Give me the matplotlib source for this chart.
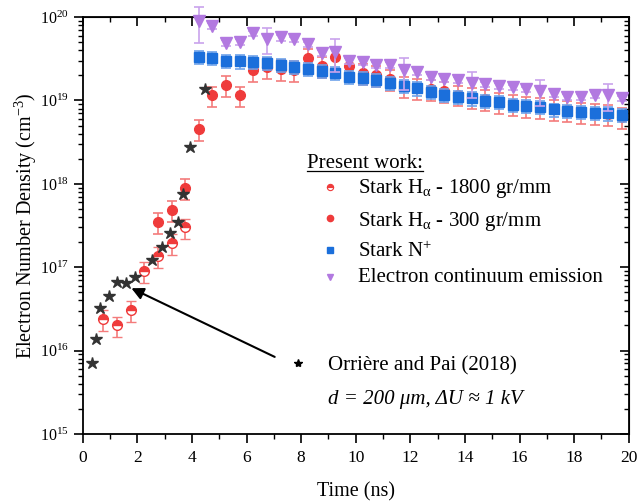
import numpy as np
import matplotlib
matplotlib.use("Agg")
import matplotlib.pyplot as plt
from matplotlib.lines import Line2D

plt.rcParams['font.family'] = ['Liberation Serif', 'DejaVu Serif']
plt.rcParams['mathtext.fontset'] = 'custom'
plt.rcParams['mathtext.rm'] = 'Liberation Serif'
plt.rcParams['mathtext.it'] = 'Liberation Serif:italic'

# Orriere and Pai (2018)
t_ref = [0.32, 0.48, 0.62, 0.96, 1.27, 1.60, 1.93, 2.53, 2.89, 3.19, 3.49, 3.67, 3.92, 4.49]
n_ref = [7.0e15, 1.38e16, 3.27e16, 4.5e16, 6.6e16, 6.4e16, 7.6e16, 1.22e17, 1.76e17,
         2.55e17, 3.5e17, 7.5e17, 2.74e18, 1.37e19]

# Stark H-alpha 1800 gr/mm
t_1800 = [0.75, 1.25, 1.75, 2.25, 2.75, 3.25, 3.75]
n_1800 = [2.4e16, 2.0e16, 3.1e16, 9.1e16, 1.36e17, 1.97e17, 3.0e17]

# Stark H-alpha 300 gr/mm
t_300 = [2.75, 3.25, 3.75, 4.25, 4.75, 5.25, 5.75, 6.25, 6.75, 7.25, 7.75, 8.25, 8.75,
         9.25, 9.75, 10.25, 10.75, 11.25, 11.75, 12.25, 12.75, 13.25, 13.75, 14.25,
         14.75, 15.25, 15.75, 16.25, 16.75, 17.25, 17.75, 18.25, 18.75, 19.25, 19.75]
n_300 = [3.5e17, 4.9e17, 8.9e17, 4.6e18, 1.15e19, 1.55e19, 1.15e19, 2.3e19, 2.5e19,
         2.4e19, 2.3e19, 3.2e19, 2.6e19, 3.3e19, 2.6e19, 2.15e19, 2.0e19, 1.8e19,
         1.5e19, 1.42e19, 1.38e19, 1.3e19, 1.18e19, 1.1e19, 1.05e19, 9.6e18, 9.1e18,
         8.6e18, 8.3e18, 7.9e18, 7.7e18, 7.3e18, 7.1e18, 6.9e18, 6.4e18]

# Stark N+ and continuum emission
t_late = [4.25, 4.75, 5.25, 5.75, 6.25, 6.75, 7.25, 7.75, 8.25, 8.75, 9.25, 9.75,
          10.25, 10.75, 11.25, 11.75, 12.25, 12.75, 13.25, 13.75, 14.25, 14.75,
          15.25, 15.75, 16.25, 16.75, 17.25, 17.75, 18.25, 18.75, 19.25, 19.75]
n_nplus = [3.3e19, 3.25e19, 3.0e19, 2.95e19, 2.9e19, 2.8e19, 2.7e19, 2.55e19, 2.4e19,
           2.25e19, 2.15e19, 1.92e19, 1.87e19, 1.76e19, 1.63e19, 1.49e19, 1.4e19,
           1.27e19, 1.18e19, 1.1e19, 1.06e19, 9.9e18, 9.6e18, 8.9e18, 8.6e18, 8.3e18,
           7.8e18, 7.5e18, 7.3e18, 7.1e18, 7.0e18, 6.7e18]
n_cont = [9.0e19, 7.8e19, 4.9e19, 5.1e19, 6.4e19, 5.5e19, 5.7e19, 5.4e19, 4.7e19,
          3.7e19, 3.8e19, 3.0e19, 2.9e19, 2.7e19, 2.65e19, 2.3e19, 2.2e19, 1.92e19,
          1.82e19, 1.76e19, 1.63e19, 1.56e19, 1.49e19, 1.44e19, 1.36e19, 1.31e19,
          1.19e19, 1.11e19, 1.11e19, 1.16e19, 1.16e19, 1.06e19]
# relative errors
err_1800 = 0.28
err_300 = 0.28
err_nplus = 0.18
err_cont = [0.45, 0.08, 0.08, 0.08, 0.08, 0.35, 0.08, 0.08, 0.08, 0.08, 0.42, 0.08,
            0.08, 0.08, 0.08, 0.42, 0.08, 0.08, 0.08, 0.08, 0.35, 0.08, 0.08, 0.08,
            0.08, 0.35, 0.08, 0.08, 0.08, 0.08, 0.35, 0.08]

red = '#ef3b3b'
blue = '#1b6fdb'
purple = '#b279e0'
star_c = '#333333'


def no_clip(cont):
    # let markers / caps run over the frame like in the original
    for part in cont.lines:
        if part is None:
            continue
        items = part if isinstance(part, (tuple, list)) else [part]
        for a in items:
            a.set_clip_on(False)


fig = plt.figure(figsize=(6.37, 5.04), dpi=100)
ax = fig.add_axes([0.130, 0.139, 0.857, 0.827])

c = ax.errorbar(t_1800, n_1800, yerr=err_1800 * np.array(n_1800), fmt='o', ms=7,
                color=red, mfc=red, mfcalt='white', fillstyle='top', mec=red, mew=1.0,
                ecolor='#f47b7b', elinewidth=1.2, capsize=3.5, capthick=1.2, zorder=3)
no_clip(c)
c = ax.errorbar(t_300, n_300, yerr=err_300 * np.array(n_300), fmt='o', ms=7,
                color=red, mec=red, ecolor='#f47b7b', elinewidth=1.2, capsize=3.5,
                capthick=1.2, zorder=3)
no_clip(c)
c = ax.errorbar(t_late, n_nplus, yerr=err_nplus * np.array(n_nplus), fmt='s', ms=6.5,
                color=blue, mec=blue, ecolor='#6fa3ea', elinewidth=1.2, capsize=3.5,
                capthick=1.2, zorder=4)
no_clip(c)
c = ax.errorbar(t_late, n_cont, yerr=np.array(err_cont) * np.array(n_cont), fmt='v',
                ms=8, color=purple, mec=purple, ecolor='#c9a3ec', elinewidth=1.2,
                capsize=3.5, capthick=1.2, zorder=5)
no_clip(c)
ax.plot(t_ref, n_ref, '*', ms=9, color=star_c, zorder=6)

ax.annotate('', xy=(1.78, 5.6e16), xytext=(7.03, 8.4e15),
            arrowprops=dict(arrowstyle='-|>', color='black', lw=1.5, mutation_scale=18,
                            shrinkA=0, shrinkB=0), zorder=7)

ax.set_yscale('log')
ax.set_xlim(0, 20)
ax.set_ylim(1e15, 1e20)
ax.set_xticks(np.arange(0, 21, 2))
ax.set_xticks(np.arange(1, 20, 2), minor=True)
ax.tick_params(axis='both', which='major', direction='out', length=6.5, width=1.2)
ax.tick_params(axis='both', which='minor', direction='out', length=3.5, width=1.0)
ax.tick_params(axis='x', which='major', labelsize=12.5, pad=5)
ax.tick_params(axis='y', which='major', labelsize=11.5)
for s in ax.spines.values():
    s.set_linewidth(1.3)

top = ax.secondary_xaxis('top')
top.set_xticks(np.arange(0, 21, 2))
top.set_xticks(np.arange(1, 20, 2), minor=True)
top.tick_params(which='major', direction='in', length=6.5, width=1.2, labeltop=False)
top.tick_params(which='minor', direction='in', length=3.5, width=1.0)
right = ax.secondary_yaxis('right')
right.tick_params(which='major', direction='in', length=6.5, width=1.2, labelright=False)
right.tick_params(which='minor', direction='in', length=3.5, width=1.0)
right.set_yticklabels([])

ax.set_xlabel('Time (ns)', fontsize=14.5, labelpad=12)
ax.set_ylabel('Electron Number Density (cm$^{-3}$)', fontsize=14.5, labelpad=1)

# legend, drawn by hand
tr = ax.transAxes
ax.text(0.410, 0.638, 'Present work:', transform=tr, fontsize=15, va='baseline')
ax.add_line(Line2D([0.410, 0.623], [0.630, 0.630], transform=tr, color='black', lw=0.9))
ax.plot([0.452], [0.593], 'o', ms=4.5, color=red, mfc=red, mfcalt='white',
        fillstyle='top', mew=0.8, transform=tr)
ax.plot([0.452], [0.519], 'o', ms=4.5, color=red, transform=tr)
ax.plot([0.452], [0.441], 's', ms=4, color=blue, transform=tr)
ax.plot([0.452], [0.377], 'v', ms=5, color=purple, transform=tr)
ax.text(0.505, 0.577, r'Stark H$_{\mathrm{α}}$ - 1800 gr/mm', transform=tr,
        fontsize=15, va='baseline')
ax.text(0.505, 0.499, r'Stark H$_{\mathrm{α}}$ - 300 gr/mm', transform=tr,
        fontsize=15, va='baseline')
ax.text(0.505, 0.425, r'Stark N$^{+}$', transform=tr, fontsize=15, va='baseline')
ax.text(0.505, 0.365, 'Electron continuum emission', transform=tr, fontsize=15,
        va='baseline')

ax.plot([0.394], [0.170], '*', ms=6, color='black', transform=tr)
ax.text(0.449, 0.153, 'Orrière and Pai (2018)', transform=tr, fontsize=15,
        va='baseline')
ax.text(0.449, 0.072, 'd = 200 μm, ΔU ≈ 1 kV', transform=tr, fontsize=15,
        va='baseline', style='italic')

fig.savefig('out.png', dpi=100)
